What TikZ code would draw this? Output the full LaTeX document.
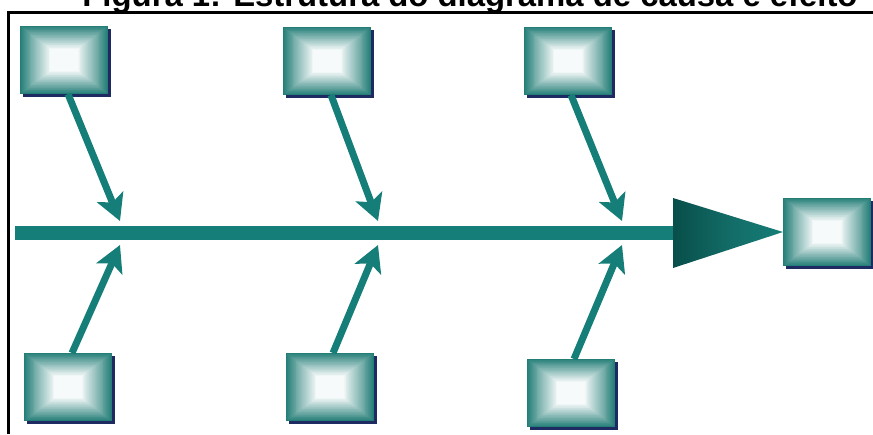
\documentclass[tikz,border=0pt]{standalone}
\usepackage{fontspec}
\setmainfont{Liberation Sans}
\usetikzlibrary{arrows.meta,shadows}

\definecolor{bonecol}{RGB}{22,126,120}
\definecolor{boxedge}{RGB}{36,126,119}
\definecolor{boxglow}{RGB}{246,250,250}
\definecolor{shadownavy}{RGB}{30,42,98}
\definecolor{headdark}{RGB}{8,78,74}

\tikzset{
  causebox/.style={
    minimum width=88pt, minimum height=68pt, inner sep=0pt, outer sep=0pt,
    drop shadow={shadow xshift=3pt, shadow yshift=-3pt, fill=shadownavy, opacity=1},
    path picture={
      \foreach \k in {0,...,32}{
        \pgfmathsetmacro\w{100*(\k/32)^0.95}
        \pgfmathsetmacro\dx{0.95*\k}
        \pgfmathsetmacro\dy{0.72*\k}
        \fill[boxglow!\w!boxedge]
          ([xshift=\dx pt, yshift=-\dy pt]path picture bounding box.north west)
          rectangle
          ([xshift=-\dx pt, yshift=\dy pt]path picture bounding box.south east);
      }
    }
  },
  bone/.style={draw=bonecol, line width=7pt,
    -{Stealth[length=26pt, width=28pt, inset=6pt, fill=bonecol]}},
  spine/.style={draw=bonecol, line width=14pt},
  frameline/.style={draw=black, line width=3pt},
}

\begin{document}
\begin{tikzpicture}[x=1pt, y=-1pt]
  \useasboundingbox (0,0) rectangle (873,434);
  \clip (0,0) rectangle (873,434);

  % caption, partly above the page
  \node[anchor=base, inner sep=0pt] (title) at (470,6.5)
    {\resizebox{775pt}{!}{\bfseries Figura 1: Estrutura do diagrama de causa e efeito}};

  % frame
  \coordinate (fa) at (8.5,434);
  \coordinate (fb) at (8.5,12);
  \coordinate (fc) at (873,12);
  \draw[frameline] (fa) -- (fb) -- (fc);

  % junction points on the spine
  \coordinate (s0) at (15,233);
  \coordinate (sh) at (673,233);
  \coordinate (u1) at (120,221);
  \coordinate (d1) at (120,245);
  \coordinate (u2) at (378,221);
  \coordinate (d2) at (378,245);
  \coordinate (u3) at (622,221);
  \coordinate (d3) at (622,245);

  % causes and effect
  \node[causebox] (t1) at (64,60)  {};
  \node[causebox] (t2) at (327,61) {};
  \node[causebox] (t3) at (568,61) {};
  \node[causebox] (b1) at (68,387) {};
  \node[causebox] (b2) at (330,387) {};
  \node[causebox] (b3) at (571,393) {};
  \node[causebox] (e)  at (827,232) {};

  % main spine and its head
  \draw[spine] (s0) -- (sh);
  \shade[left color=headdark, right color=bonecol, middle color=bonecol!85!black]
    (673,198) -- (e.west) -- (673,268) -- cycle;

  % bones
  \draw[bone] ([xshift=4pt]t1.south) -- (u1);
  \draw[bone] ([xshift=4pt]t2.south) -- (u2);
  \draw[bone] ([xshift=3pt]t3.south) -- (u3);
  \draw[bone] ([xshift=4pt]b1.north) -- (d1);
  \draw[bone] ([xshift=3pt]b2.north) -- (d2);
  \draw[bone] ([xshift=3pt]b3.north) -- (d3);
\end{tikzpicture}
\end{document}
